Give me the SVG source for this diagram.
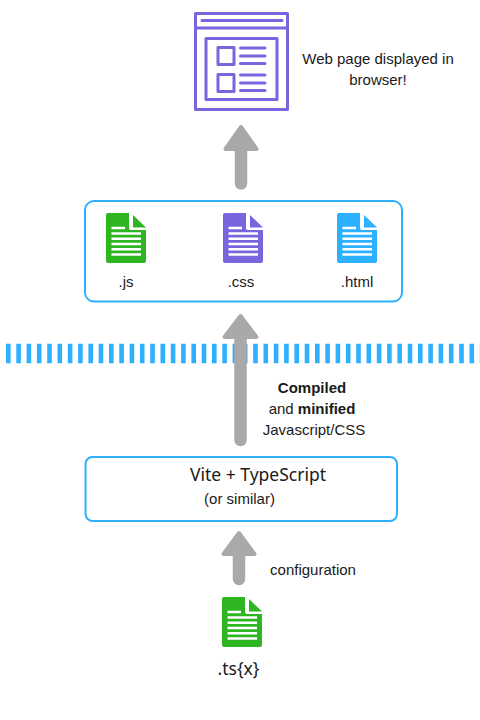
<svg xmlns="http://www.w3.org/2000/svg" width="480" height="720" viewBox="0 0 480 720">
<style>
text{font-family:"Liberation Sans",Arial,sans-serif;font-size:15px;fill:#1a1a1a}
.n{font-family:"Noto Sans","Open Sans",sans-serif;font-size:17.500px}
.box{fill:#fff;stroke:#2db0ff;stroke-width:2}
.br{fill:none;stroke:#7766dd;stroke-width:3;stroke-linejoin:round;stroke-linecap:round}
.arrow{fill:#a9a9a9;stroke:#a9a9a9;stroke-width:4;stroke-linejoin:round}
.shaft{fill:none;stroke:#a9a9a9;stroke-width:12.500px;stroke-linecap:round}
.line{stroke:#fff;stroke-width:2.400}
</style>
<defs>
<g id="doc">
<path d="M2 0H23V15a2 2 0 0 0 2 2H40V48a2 2 0 0 1-2 2H2a2 2 0 0 1-2-2V2a2 2 0 0 1 2-2Z"/>
<path d="M27 2L40 14.500H27Z"/>
<path class="line" d="M5.500 15H19M5.500 20.500H35M5.500 25.800H35M5.500 31H35M5.500 36.300H35M5.500 41.500H35"/>
</g>
</defs>
<line x1="6" y1="353.500" x2="480" y2="353.500" stroke="#2db0ff" stroke-width="19.500" stroke-dasharray="4.600 5.700"/>
<g id="connectors">
<g id="arrow-top"><path class="shaft" d="M241 148V183.500"/><path class="arrow" d="M241 127L256.500 149H225.500Z"/></g>
<g id="arrow-mid"><path class="shaft" d="M240.500 335V440"/><path class="arrow" d="M240.500 316L256.500 337H224.500Z"/></g>
<g id="arrow-bot"><path class="shaft" d="M239 552V579"/><path class="arrow" d="M239 533L254.500 554H223.500Z"/></g>
</g>
<g id="browser">
<rect class="br" x="195.500" y="13.500" width="92" height="96"/>
<path class="br" d="M195.500 28H287.500M202 20.500H282"/>
<rect class="br" x="206" y="38.500" width="71" height="61"/>
<rect class="br" x="218" y="47.500" width="16" height="17"/>
<rect class="br" x="218" y="74.500" width="16" height="17"/>
<path class="br" d="M240.500 48H265M240.500 56H265M240.500 63.500H265M240.500 75H265M240.500 83H265M240.500 90.500H265"/>
<text x="378" y="64" text-anchor="middle">Web page displayed in</text>
<text x="378" y="84.500" text-anchor="middle">browser!</text>
</g>
<g id="output-box">
<rect class="box" x="85" y="201" width="317" height="100.500" rx="9"/>
</g>
<g id="js"><use href="#doc" x="106" y="213" fill="#30b522"/><text x="126" y="287" text-anchor="middle">.js</text></g>
<g id="css"><use href="#doc" x="223" y="213" fill="#7766dd"/><text x="241" y="287" text-anchor="middle">.css</text></g>
<g id="html"><use href="#doc" x="337" y="213" fill="#2db0ff"/><text x="357" y="287" text-anchor="middle">.html</text></g>
<g id="compile-label">
<text x="312" y="393" text-anchor="middle" font-weight="700">Compiled</text>
<text x="312" y="414" text-anchor="middle">and <tspan font-weight="700">minified</tspan></text>
<text x="314" y="435" text-anchor="middle">Javascript/CSS</text>
</g>
<g id="vite">
<rect class="box" x="85.500" y="457" width="311.500" height="64" rx="7"/>
<text class="n" x="258" y="481" text-anchor="middle">Vite + TypeScript</text>
<text x="239.500" y="504" text-anchor="middle">(or similar)</text>
</g>
<g id="config-label"><text x="313" y="575" text-anchor="middle">configuration</text></g>
<g id="ts"><use href="#doc" x="222" y="597" fill="#30b522"/><text class="n" x="238.500" y="675" text-anchor="middle">.ts{x}</text></g>
</svg>
